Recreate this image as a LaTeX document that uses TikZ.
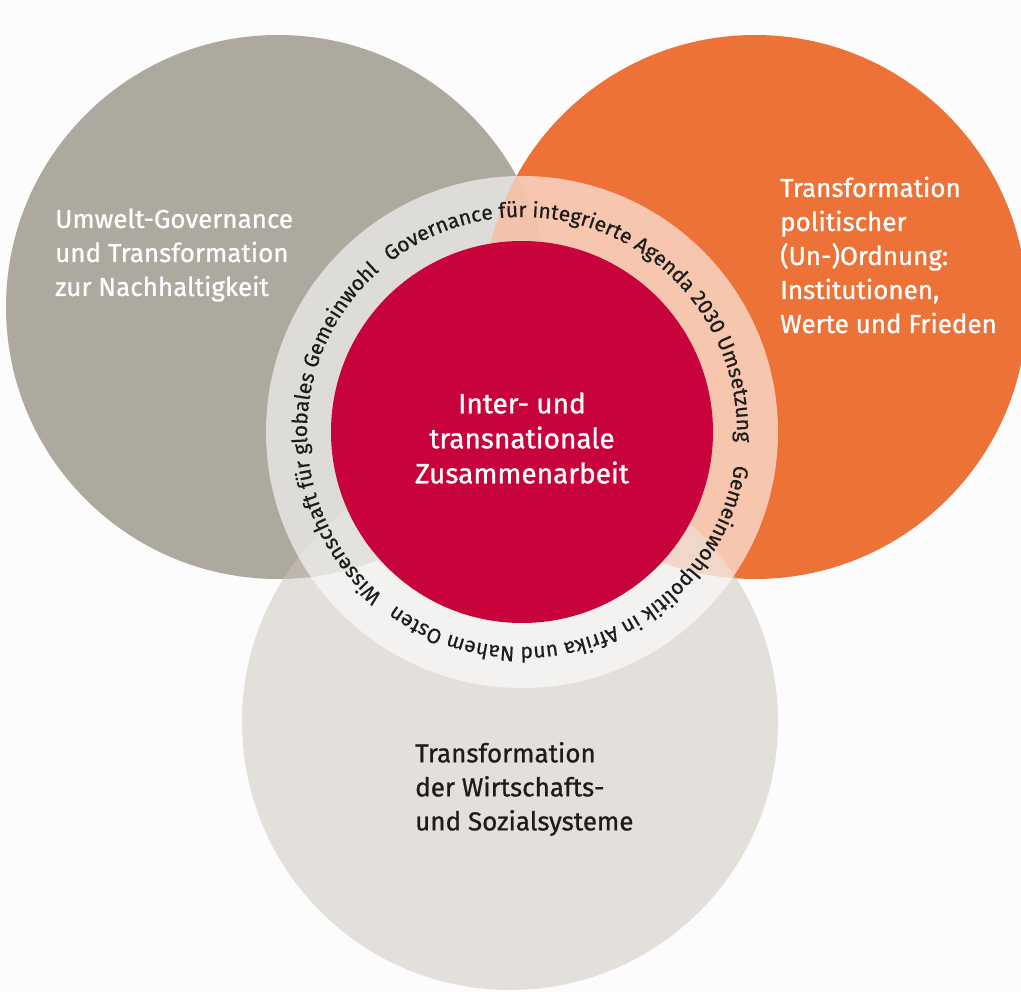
\documentclass[tikz,border=0pt]{standalone}
\usepackage{fontspec}
\setmainfont{Fira Sans}
\newfontfamily\labelfont{Fira Sans}[FakeBold=0.9]
\newfontfamily\ringfont{Fira Sans}[FakeBold=0.6]
\usetikzlibrary{decorations.text}

\definecolor{bgwhite}{RGB}{252,252,252}
\definecolor{envgray}{RGB}{174,169,158}
\definecolor{polorange}{RGB}{234,95,30}
\definecolor{ecolight}{RGB}{204,198,188}
\definecolor{coopred}{RGB}{200,2,58}
\definecolor{inktext}{RGB}{30,28,26}

\begin{document}
\begin{tikzpicture}[x=1pt,y=1pt,
  sidelabel/.style={align=left, anchor=west, inner sep=0pt,
    font=\labelfont\fontsize{26}{34}\selectfont},
  ringtext/.style={decorate, decoration={text along path, text align=center,
    text={|\ringfont\fontsize{21}{21}\selectfont\color{inktext}|#1}}}
]
% page
\fill[bgwhite] (0,0) rectangle (1021,-992);
\useasboundingbox (0,0) rectangle (1021,-992);

% three research areas
\fill[envgray] (278,-307) circle[radius=272];
\fill[polorange, fill opacity=0.88] (755,-307) circle[radius=272];
\fill[ecolight, fill opacity=0.5] (510,-722) circle[radius=268];

% cross-cutting ring and core
\coordinate (C) at (522,-432);
\fill[white, fill opacity=0.6] (C) circle[radius=256];
\fill[coopred] (C) circle[radius=191];

% ring captions, running clockwise
\path[ringtext={Governance für integrierte Agenda 2030 Umsetzung}]
  ([shift={(142.5:215)}]C) arc[start angle=142.5, end angle=-17.5, radius=215];
\path[ringtext={Gemeinwohlpolitik in Afrika und Nahem Osten}]
  ([shift={(12.5:215)}]C) arc[start angle=12.5, end angle=-147.5, radius=215];
\path[ringtext={Wissenschaft für globales Gemeinwohl}]
  ([shift={(260.5:215)}]C) arc[start angle=260.5, end angle=100.5, radius=215];

% labels
\node[sidelabel, text=white] (envlabel) at (55,-255)
  {Umwelt-Governance\\und Transformation\\zur Nachhaltigkeit};
\node[sidelabel, text=white] (pollabel) at (780,-255)
  {Transformation\\politischer\\(Un-)Ordnung:\\Institutionen,\\Werte und Frieden};
\node[sidelabel, text=inktext] (ecolabel) at (415,-789)
  {Transformation\\der Wirtschafts-\\und Sozialsysteme};
\node[align=center, inner sep=0pt, text=white,
  font=\labelfont\fontsize{28}{35}\selectfont] (corelabel) at (522,-438)
  {Inter- und\\transnationale\\Zusammenarbeit};
\end{tikzpicture}
\end{document}
